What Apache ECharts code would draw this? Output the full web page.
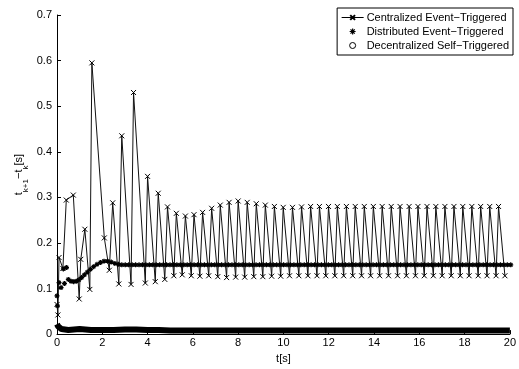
<!DOCTYPE html>
<html><head><meta charset="utf-8">
<script src="https://cdn.jsdelivr.net/npm/echarts@6/dist/echarts.min.js"></script>
<style>html,body{margin:0;padding:0;background:#fff}#c{width:519px;height:369px}</style>
</head><body><div id="c"></div>
<script>
const seriesNames = ['Centralized Event\u2212Triggered', 'Distributed Event\u2212Triggered', 'Decentralized Self\u2212Triggered'];
const xTickLabels = ['0','2','4','6','8','10','12','14','16','18','20'];
const yTickLabels = ['0','0.1','0.2','0.3','0.4','0.5','0.6','0.7'];

// Centralized event-triggered: event times t_k and intervals t_{k+1}-t_k
const centralT = [0.00,0.04,0.09,0.26,0.41,0.72,0.98,1.05,1.23,1.45,
  1.54,2.09,2.31,2.46,2.73,2.86,3.27,3.38,3.90,4.00,
  4.34,4.47,4.76,4.88,
  5.16,5.27,5.53,5.67,5.93,6.05,6.31,6.43,6.70,6.83,7.10,7.21,7.49,7.60,7.89,8.00,8.29,8.40,8.69,8.80,9.09,9.20,9.48,9.60,9.88,9.99,10.27,10.40,10.68,10.80,
  11.08,11.20,11.48,11.59,11.87,11.99,12.27,12.38,12.66,12.78,13.06,13.17,13.45,13.57,13.85,13.97,14.25,14.36,14.64,14.76,15.04,15.15,15.43,15.55,15.83,15.94,16.22,16.34,16.62,16.73,17.01,17.13,17.41,17.53,17.81,17.92,18.20,18.32,18.60,18.71,18.99,19.11,19.39,19.50,19.78];
const centralV = [0.065,0.042,0.168,0.144,0.294,0.305,0.077,0.164,0.230,0.098,
  0.595,0.211,0.140,0.288,0.110,0.435,0.109,0.530,0.112,0.346,
  0.115,0.309,0.120,0.279,
  0.128,0.265,0.130,0.259,0.128,0.262,0.127,0.267,0.128,0.276,0.126,0.283,0.124,0.289,0.125,0.292,0.125,0.289,0.126,0.286,0.126,0.283,0.127,0.280,0.127,0.278,0.128,0.278,0.128,0.279,
  0.128,0.280,0.128,0.280,0.128,0.280,0.128,0.280,0.128,0.280,0.128,0.280,0.128,0.280,0.128,0.280,0.128,0.280,0.128,0.280,0.128,0.280,0.128,0.280,0.128,0.280,0.128,0.280,0.128,0.280,0.128,0.280,0.128,0.280,0.128,0.280,0.128,0.280,0.128,0.280,0.128,0.280,0.128,0.280,0.128];

// Distributed event-triggered: scattered first events
const distEarlyT = [0.00,0.02,0.09,0.18,0.28,0.33,0.42];
const distEarlyV = [0.084,0.062,0.113,0.102,0.143,0.111,0.146];
// then a chain of events starting at distStartT; each next event time = t + interval
const distStartT = 0.50;
const distV = [0.120,0.116,0.115,0.116,0.119,0.124,0.130,0.136,0.142,0.148,0.153,0.157,0.160,0.160,0.158,0.155,0.153,
  0.152,0.152,0.152,0.152,0.152,0.152,0.152,0.152,0.152,0.152,0.152,0.152,0.152,0.152,0.152,0.152,0.152,0.152,0.152,0.152,
  0.152,0.152,0.152,0.152,0.152,0.152,0.152,0.152,0.152,0.152,0.152,0.152,0.152,0.152,0.152,0.152,0.152,0.152,0.152,0.152,
  0.152,0.152,0.152,0.152,0.152,0.152,0.152,0.152,0.152,0.152,0.152,0.152,0.152,0.152,0.152,0.152,0.152,0.152,0.152,0.152,
  0.152,0.152,0.152,0.152,0.152,0.152,0.152,0.152,0.152,0.152,0.152,0.152,0.152,0.152,0.152,0.152,0.152,0.152,0.152,0.152,
  0.152,0.152,0.152,0.152,0.152,0.152,0.152,0.152,0.152,0.152,0.152,0.152,0.152,0.152,0.152,0.152,0.152,0.152,0.152,0.152,
  0.152,0.152,0.152,0.152,0.152,0.152,0.152,0.152,0.152,0.152,0.152,0.152,0.152,0.152];

// Decentralized self-triggered (very dense, drawn as a thick band)
const decT = [0,0.05,0.1,0.2,0.35,0.5,0.75,1.0,1.25,1.5,2.0,2.5,3.0,3.5,4.0,4.5,5,6,7,8,9,10,11,12,13,14,15,16,17,18,19,20];
const decV = [0.022,0.017,0.013,0.011,0.010,0.009,0.010,0.011,0.010,0.009,0.009,0.009,0.010,0.010,0.009,0.009,0.008,0.008,0.008,0.008,0.008,0.008,0.008,0.008,0.008,0.008,0.008,0.008,0.008,0.008,0.008,0.008];

const FONT = 'Liberation Sans, Arial, Helvetica, sans-serif';

const centralData = centralT.map((t, i) => [t, centralV[i]]);
const distData = distEarlyT.map((t, i) => [t, distEarlyV[i]]);
let tt = distStartT;
distV.forEach(v => { distData.push([tt, v]); tt += v; });
const decData = decT.map((t, i) => [t, decV[i]]);

const xMark = 'path://M0,0 L10,10 M10,0 L0,10';
const star = 'path://M5,0 L5,10 M0,5 L10,5 M1.5,1.5 L8.5,8.5 M8.5,1.5 L1.5,8.5';

const chart = echarts.init(document.getElementById('c'), null, {renderer: 'canvas'});
chart.setOption({
  animation: false,
  backgroundColor: '#fff',
  textStyle: {fontFamily: FONT},
  grid: {left: 57, right: 7, top: 15, bottom: 32, containLabel: false},
  legend: {
    orient: 'vertical', right: 6, top: 8, align: 'left',
    itemWidth: 22, itemHeight: 6, itemGap: 3,
    padding: [4, 4, 4, 4],
    borderColor: '#000', borderWidth: 1, borderRadius: 0, backgroundColor: '#fff',
    textStyle: {fontFamily: FONT, fontSize: 11, color: '#000', padding: [0, 0, 0, -2]},
    data: [
      {name: seriesNames[0], lineStyle: {width: 1, color: '#000'}},
      {name: seriesNames[1], icon: star, itemStyle: {color: 'rgba(0,0,0,0)', borderColor: '#000', borderWidth: 1.2}},
      {name: seriesNames[2], icon: 'circle', itemStyle: {color: '#fff', borderColor: '#000', borderWidth: 1}}
    ]
  },
  xAxis: {
    type: 'value', min: 0, max: 20, interval: 2,
    name: 't[s]', nameLocation: 'middle', nameGap: 15,
    nameTextStyle: {fontFamily: FONT, fontSize: 11, color: '#000'},
    axisLine: {lineStyle: {color: '#000', width: 1}},
    axisTick: {inside: true, length: 4, lineStyle: {color: '#000'}},
    axisLabel: {fontFamily: FONT, fontSize: 11, color: '#000', margin: 3,
      formatter: (v) => xTickLabels[Math.round(v / 2)]},
    splitLine: {show: false}
  },
  yAxis: {
    type: 'value', min: 0, max: 0.7, interval: 0.1,
    name: '{t|t}{s|k+1}{t|\u2212t}{s|k}{t|[s]}', nameLocation: 'middle', nameGap: 27, nameRotate: 90,
    nameMoveOverlap: false,
    nameTextStyle: {
      fontFamily: FONT, color: '#000',
      rich: {
        t: {fontFamily: FONT, fontSize: 11, color: '#000', lineHeight: 17, verticalAlign: 'top'},
        s: {fontFamily: FONT, fontSize: 8, color: '#000', verticalAlign: 'bottom'}
      }
    },
    axisLine: {show: true, lineStyle: {color: '#000', width: 1}},
    axisTick: {show: true, inside: true, length: 4, lineStyle: {color: '#000'}},
    axisLabel: {fontFamily: FONT, fontSize: 11, color: '#000', margin: 5,
      formatter: (v) => yTickLabels[Math.round(v * 10)]},
    splitLine: {show: false}
  },
  series: [
    {
      name: seriesNames[0], type: 'line', data: centralData,
      symbol: xMark, symbolSize: 5, showAllSymbol: true,
      lineStyle: {color: '#111', width: 1},
      itemStyle: {color: 'rgba(0,0,0,0)', borderColor: '#000', borderWidth: 1},
      clip: false, z: 2
    },
    {
      name: seriesNames[1], type: 'scatter', data: distData,
      symbol: star, symbolSize: 5,
      itemStyle: {color: 'rgba(0,0,0,0)', borderColor: '#000', borderWidth: 1.2, opacity: 1},
      clip: false, z: 3
    },
    {
      name: seriesNames[2], type: 'line', data: decData,
      symbol: 'none', showSymbol: false,
      lineStyle: {color: '#000', width: 6},
      itemStyle: {color: '#000'},
      clip: false, z: 4
    }
  ]
});
</script></body></html>
